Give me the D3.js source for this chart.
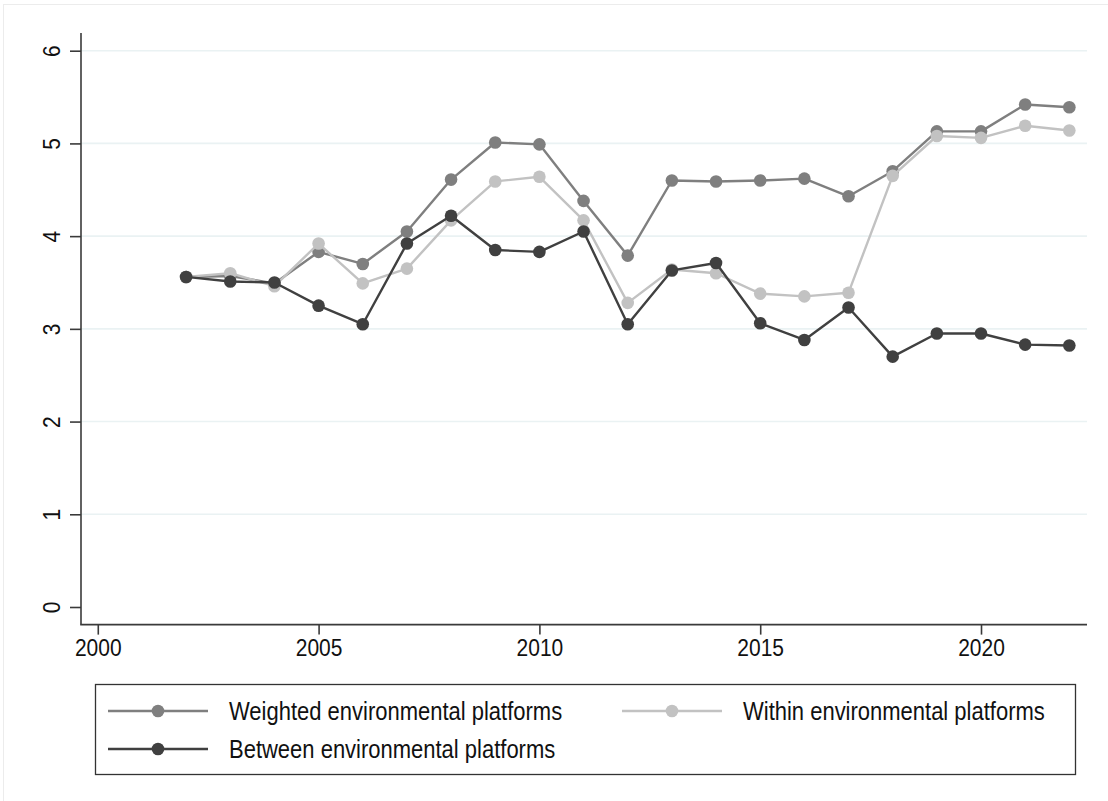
<!DOCTYPE html>
<html>
<head>
<meta charset="utf-8">
<script src="https://cdn.jsdelivr.net/npm/d3@7/dist/d3.min.js"></script>
<style>
  html, body { margin: 0; padding: 0; background: #fff; }
  svg { display: block; font-family: "Liberation Sans", Arial, sans-serif; }
</style>
</head>
<body>
<svg id="chart" width="1108" height="801"></svg>
<script>
// Years on the x axis
const years = [2002, 2003, 2004, 2005, 2006, 2007, 2008, 2009, 2010, 2011, 2012,
               2013, 2014, 2015, 2016, 2017, 2018, 2019, 2020, 2021, 2022];

// Series values
const weighted = [3.56, 3.57, 3.49, 3.83, 3.70, 4.05, 4.61, 5.01, 4.99, 4.38, 3.79,
                  4.60, 4.59, 4.60, 4.62, 4.43, 4.70, 5.13, 5.13, 5.42, 5.39];
const within   = [3.56, 3.60, 3.46, 3.92, 3.49, 3.65, 4.17, 4.59, 4.64, 4.17, 3.28,
                  3.64, 3.60, 3.38, 3.35, 3.39, 4.65, 5.08, 5.06, 5.19, 5.14];
const between  = [3.56, 3.51, 3.50, 3.25, 3.05, 3.92, 4.22, 3.85, 3.83, 4.05, 3.05,
                  3.63, 3.71, 3.06, 2.88, 3.23, 2.70, 2.95, 2.95, 2.83, 2.82];

// Tick values
const xTicks = [2000, 2005, 2010, 2015, 2020];
const yTicks = [0, 1, 2, 3, 4, 5, 6];

// Series names and colours
const seriesNames = ["Weighted environmental platforms",
                     "Within environmental platforms",
                     "Between environmental platforms"];
const seriesColors = ["#7f7f7f", "#c2c2c2", "#404040"];

const svg = d3.select("#chart");
const TEXT_STRETCH = 1.15;   // glyphs are slightly tall and narrow

// faint outer frame
svg.append("rect")
  .attr("x", 3.5).attr("y", 4.5).attr("width", 1120).attr("height", 820)
  .attr("fill", "none").attr("stroke", "#ececec").attr("stroke-width", 1);

const x = d3.scaleLinear().domain([1999.62, 2022.4]).range([81, 1087]);
const y = d3.scaleLinear().domain([0, 6]).range([607, 50.7]);
const yMin = -0.19, yMax = 6.19;
const axisColor = "#3a3a3a";

// gridlines
svg.append("g")
  .selectAll("line")
  .data(yTicks.filter(d => d > 0))
  .join("line")
  .attr("x1", x(x.domain()[0])).attr("x2", x(x.domain()[1]))
  .attr("y1", d => y(d)).attr("y2", d => y(d))
  .attr("stroke", "#eaf2f3").attr("stroke-width", 1.6);

// y axis
const yAxis = d3.axisLeft(y).tickValues(yTicks).tickSize(11)
  .tickFormat(d3.format("d"));
const gy = svg.append("g").attr("transform", `translate(${x(x.domain()[0])},0)`).call(yAxis);
gy.select(".domain").remove();
gy.append("line").attr("x1", 0).attr("x2", 0)
  .attr("y1", y(yMin)).attr("y2", y(yMax))
  .attr("stroke", axisColor).attr("stroke-width", 1.6);
gy.selectAll(".tick line").attr("stroke", axisColor).attr("stroke-width", 1.6);
gy.selectAll(".tick text")
  .attr("font-size", 21).attr("fill", "#111")
  .attr("text-anchor", "middle")
  .attr("x", 0).attr("y", 0).attr("dy", "0.36em")
  .attr("transform", `translate(-29.5,0) rotate(-90) scale(1,${TEXT_STRETCH})`);

// x axis
const xAxis = d3.axisBottom(x).tickValues(xTicks).tickSize(10)
  .tickFormat(d3.format("d"));
const gx = svg.append("g").attr("transform", `translate(0,${y(yMin)})`).call(xAxis);
gx.select(".domain").remove();
gx.append("line").attr("x1", x(x.domain()[0]) - 0.8).attr("x2", x(x.domain()[1]))
  .attr("y1", 0).attr("y2", 0)
  .attr("stroke", axisColor).attr("stroke-width", 1.6);
gx.selectAll(".tick line").attr("stroke", axisColor).attr("stroke-width", 1.6);
gx.selectAll(".tick text")
  .attr("font-size", 21).attr("fill", "#111")
  .attr("y", 0).attr("dy", 0)
  .attr("transform", `translate(0,31) scale(1,${TEXT_STRETCH})`);

// series lines and markers
const seriesData = [weighted, within, between];
const line = d3.line().x((d, i) => x(years[i])).y(d => y(d));

seriesData.forEach((vals, s) => {
  const g = svg.append("g");
  g.append("path").datum(vals)
    .attr("d", line)
    .attr("fill", "none")
    .attr("stroke", seriesColors[s])
    .attr("stroke-width", 2.4)
    .attr("stroke-linejoin", "round");
  g.selectAll("circle").data(vals).join("circle")
    .attr("cx", (d, i) => x(years[i]))
    .attr("cy", d => y(d))
    .attr("r", 6.3)
    .attr("fill", seriesColors[s]);
});

// legend
const legend = svg.append("g");
legend.append("rect")
  .attr("x", 95.5).attr("y", 684.5).attr("width", 980).attr("height", 90)
  .attr("fill", "#fff").attr("stroke", "#333").attr("stroke-width", 1.3);

const legendPos = [
  { lx: 108, ty: 711 },
  { lx: 622, ty: 711 },
  { lx: 108, ty: 749 }
];
seriesNames.forEach((name, s) => {
  const p = legendPos[s];
  const g = legend.append("g");
  g.append("line")
    .attr("x1", p.lx).attr("x2", p.lx + 100)
    .attr("y1", p.ty).attr("y2", p.ty)
    .attr("stroke", seriesColors[s]).attr("stroke-width", 2.4);
  g.append("circle")
    .attr("cx", p.lx + 50).attr("cy", p.ty).attr("r", 6.3)
    .attr("fill", seriesColors[s]);
  g.append("text")
    .attr("x", 0).attr("y", 0).attr("dy", "0.36em")
    .attr("transform", `translate(${p.lx + 121},${p.ty}) scale(1,${TEXT_STRETCH})`)
    .attr("font-size", 22).attr("fill", "#111")
    .text(name);
});
</script>
</body>
</html>
